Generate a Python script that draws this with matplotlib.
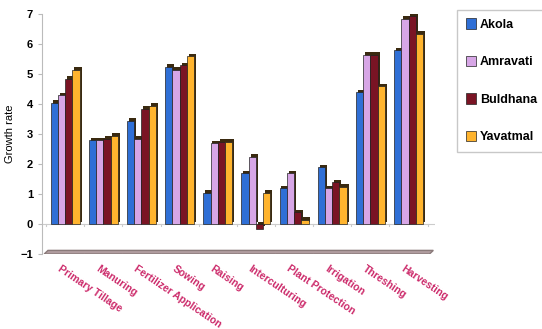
import numpy as np
import matplotlib.pyplot as plt
from matplotlib.patches import Polygon

plt.rcParams['font.family'] = ['Liberation Sans', 'DejaVu Sans']

operations = ["Primary Tillage", "Manuring", "Fertilizer Application", "Sowing",
              "Raising", "Interculturing", "Plant Protection", "Irrigation",
              "Threshing", "Harvesting"]
akola = [4.05, 2.8, 3.45, 5.25, 1.05, 1.7, 1.2, 1.9, 4.4, 5.8]
amravati = [4.3, 2.8, 2.85, 5.15, 2.7, 2.25, 1.7, 1.2, 5.65, 6.85]
buldhana = [4.85, 2.85, 3.85, 5.3, 2.75, -0.15, 0.4, 1.4, 5.65, 6.95]
yavatmal = [5.15, 2.95, 3.95, 5.6, 2.75, 1.05, 0.15, 1.25, 4.6, 6.35]

series = [("Akola", akola, "#2f6fd6"),
          ("Amravati", amravati, "#d7a6e6"),
          ("Buldhana", buldhana, "#7a1424"),
          ("Yavatmal", yavatmal, "#ffb42e")]

fig = plt.figure(figsize=(5.42, 3.29), dpi=100)
ax = fig.add_axes([0.078, 0.228, 0.725, 0.729])

x = np.arange(len(operations))
w = 0.19
dx, dy = 0.05, 0.08
for i, (name, vals, col) in enumerate(series):
    pos = x + (i - 1.5) * w
    # depth shading behind each bar
    ax.bar(pos + dx, vals, w, bottom=dy, color="#3a2a10", edgecolor="none", zorder=2)
    ax.bar(pos, vals, w, color=col, edgecolor="#222222", linewidth=0.5,
           label=name, zorder=3)

# floor slab at -1
n = len(operations)
floor = Polygon([[-0.55, -1.0], [n - 0.45, -1.0], [n - 0.35, -0.88], [-0.45, -0.88]],
                closed=True, facecolor="#b09c9f", edgecolor="#8a7a7a", zorder=1)
ax.add_patch(floor)
ax.axhline(0, color="#cccccc", linewidth=0.8, zorder=1)
for b in np.arange(n + 1) - 0.5:
    ax.plot([b, b], [0, -0.08], color="#cccccc", linewidth=0.8, zorder=1)
    ax.plot([b, b], [-1, -1.1], color="#cccccc", linewidth=0.8, zorder=1)

ax.set_xlim(-0.6, n - 0.3)
ax.set_ylim(-1, 7)
ax.set_yticks(range(-1, 8))
ax.tick_params(axis="y", labelsize=8, length=3, color="#bbbbbb")
for t in ax.get_yticklabels():
    t.set_fontweight("bold")
ax.set_ylabel("Growth rate", fontsize=8)

ax.set_xticks(x - 0.1)
ax.set_xticklabels(operations, rotation=-34, ha="left", rotation_mode="anchor",
                   color="#cc2a6a", fontsize=7.5, fontweight="bold")
ax.tick_params(axis="x", length=0, pad=7)

for s in ["top", "right", "bottom"]:
    ax.spines[s].set_visible(False)
ax.spines["left"].set_color("#bbbbbb")

leg = fig.legend(loc="upper left", bbox_to_anchor=(0.832, 0.99), frameon=True,
                 fancybox=False, edgecolor="#bbbbbb", handlelength=0.8,
                 handleheight=0.9, handletextpad=0.3, labelspacing=2.0,
                 borderpad=0.7, prop={"weight": "bold", "size": 9})

fig.savefig("out.png", dpi=100)
